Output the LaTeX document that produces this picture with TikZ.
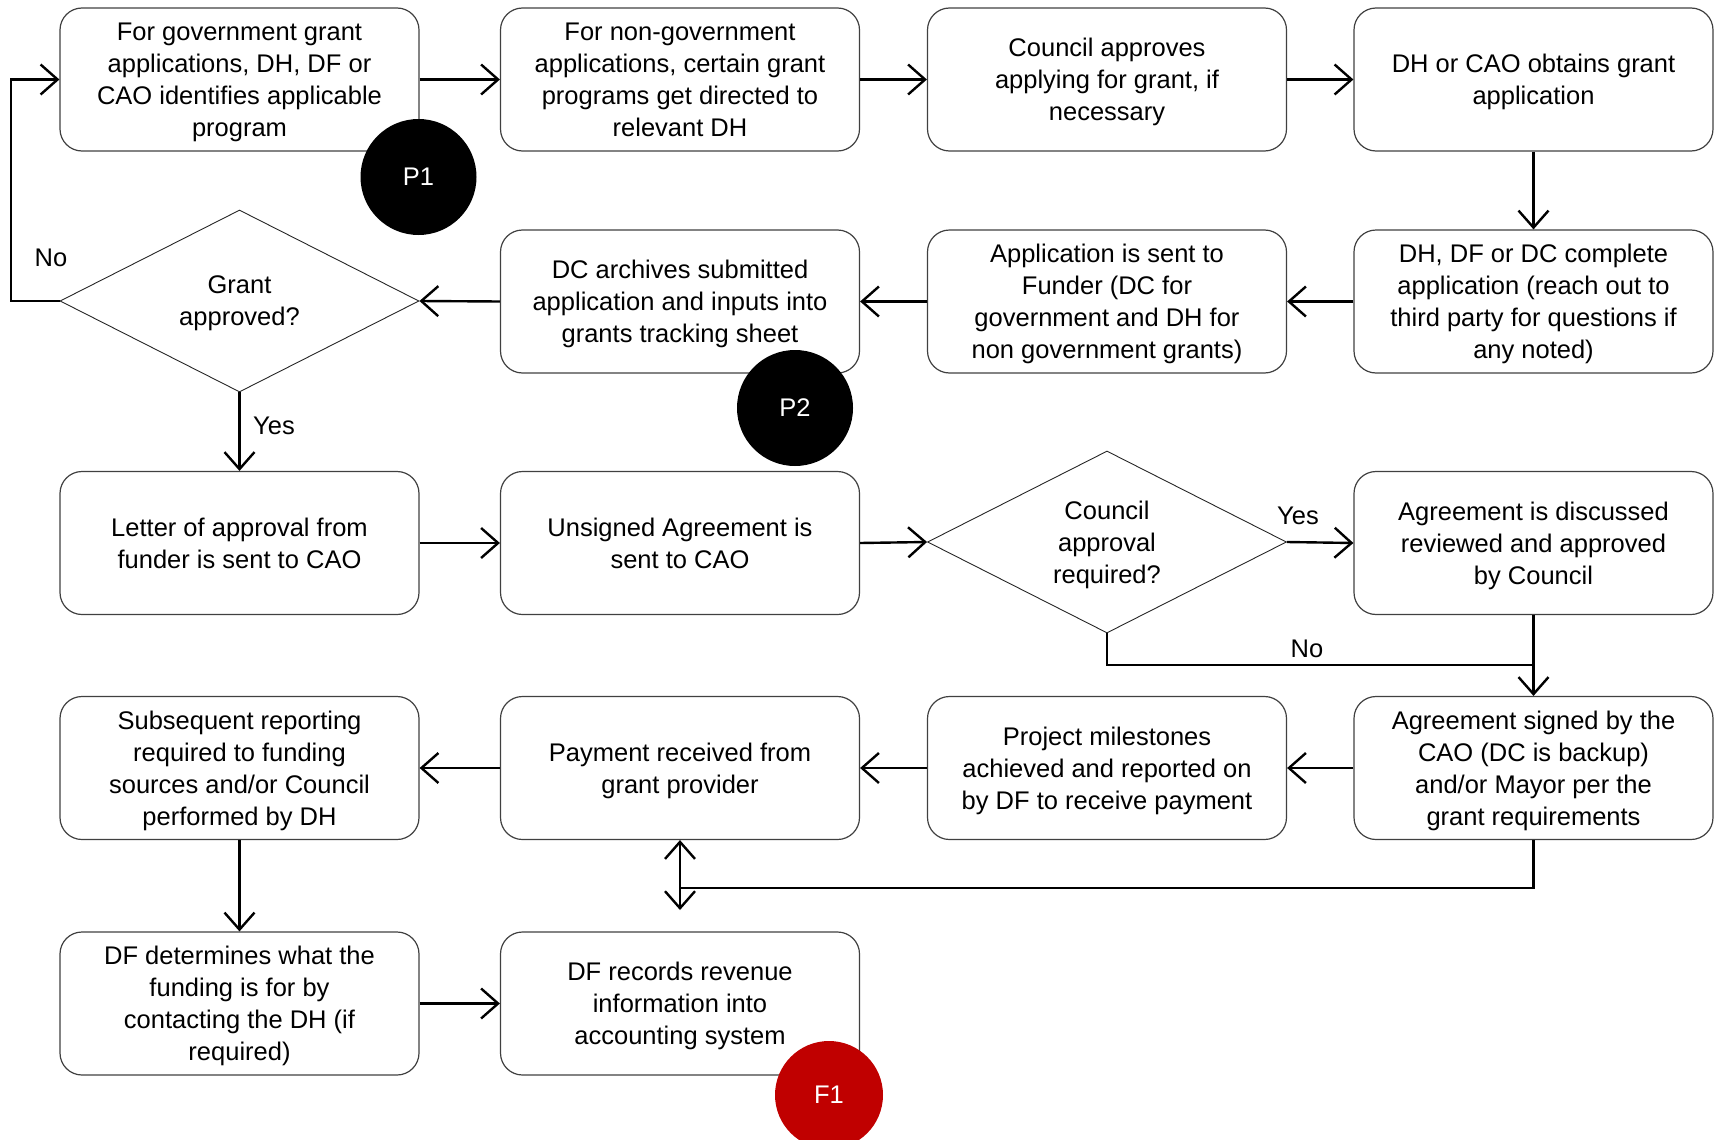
\documentclass[tikz,border=0pt]{standalone}
\usepackage{fontspec}
\setmainfont{Liberation Sans}
\usetikzlibrary{arrows.meta,shapes.geometric}
\definecolor{fred}{RGB}{192,0,0}
\begin{document}
\begin{tikzpicture}[x=1pt,y=-1pt,
  box/.style={draw=black!75,line width=1.2pt,rounded corners=22pt,minimum width=359pt,minimum height=143pt,align=center,inner sep=0pt,text depth=-8pt,font=\fontsize{25.5pt}{32pt}\selectfont},
  dia/.style={draw=black!85,line width=0.9pt,diamond,minimum width=359pt,minimum height=182pt,shape aspect=1.97,align=center,inner sep=0pt,text depth=-8pt,font=\fontsize{25.5pt}{32pt}\selectfont},
  arr/.style={line width=2.4pt,-{Straight Barb[length=17pt,width=30pt,line width=2.4pt]}},
  darr/.style={line width=2.4pt,{Straight Barb[length=17pt,width=30pt,line width=2.4pt]}-{Straight Barb[length=17pt,width=30pt,line width=2.4pt]}},
  plain/.style={line width=2.4pt},
  thinl/.style={line width=1.2pt},
  lab/.style={font=\fontsize{25.5pt}{30pt}\selectfont,inner sep=0pt},
  badge/.style={circle,fill=#1,text=white,minimum size=116pt,inner sep=0pt,font=\fontsize{25.5pt}{30pt}\selectfont}]
\useasboundingbox (0,0) rectangle (1717,1140);
% row 1
\node[box] (b11) at (239.5,79.5) {For government grant\\applications, DH, DF or\\CAO identifies applicable\\program};
\node[box] (b12) at (680,79.5) {For non-government\\applications, certain grant\\programs get directed to\\relevant DH};
\node[box] (b13) at (1107,79.5) {Council approves\\applying for grant, if\\necessary};
\node[box] (b14) at (1533.5,79.5) {DH or CAO obtains grant\\application};
% row 2
\node[dia] (d1) at (239.5,301) {Grant\\approved?};
\node[box] (b22) at (680,301.5) {DC archives submitted\\application and inputs into\\grants tracking sheet};
\node[box] (b23) at (1107,301.5) {Application is sent to\\Funder (DC for\\government and DH for\\non government grants)};
\node[box] (b24) at (1533.5,301.5) {DH, DF or DC complete\\application (reach out to\\third party for questions if\\any noted)};
% row 3
\node[box] (b31) at (239.5,543) {Letter of approval from\\funder is sent to CAO};
\node[box] (b32) at (680,543) {Unsigned Agreement is\\sent to CAO};
\node[dia] (d2) at (1107,542) {Council\\approval\\required?};
\node[box] (b34) at (1533.5,543) {Agreement is discussed\\reviewed and approved\\by Council};
% row 4
\node[box] (b41) at (239.5,768) {Subsequent reporting\\required to funding\\sources and/or Council\\performed by DH};
\node[box] (b42) at (680,768) {Payment received from\\grant provider};
\node[box] (b43) at (1107,768) {Project milestones\\achieved and reported on\\by DF to receive payment};
\node[box] (b44) at (1533.5,768) {Agreement signed by the\\CAO (DC is backup)\\and/or Mayor per the\\grant requirements};
% row 5
\node[box] (b51) at (239.5,1003.5) {DF determines what the\\funding is for by\\contacting the DH (if\\required)};
\node[box] (b52) at (680,1003.5) {DF records revenue\\information into\\accounting system};
% coordinates
\coordinate (nl) at (11,301);
\coordinate (nj) at (1533.5,665);
\coordinate (pj) at (680,888);
\coordinate (pd) at (680,910);
% connectors
\draw[arr] (b11) -- (b12);
\draw[arr] (b12) -- (b13);
\draw[arr] (b13) -- (b14);
\draw[arr] (b14) -- (b24);
\draw[arr] (b24) -- (b23);
\draw[arr] (b23) -- (b22);
\draw[arr] (b22.west) -- (d1.east);
\draw[arr] (d1.west) -- (nl) |- (b11.west);
\draw[arr] (d1.south) -- (b31.north);
\draw[arr] (b31) -- (b32);
\draw[arr] (b32.east) -- (d2.west);
\draw[arr] (d2.east) -- (b34.west);
\draw[arr] (b34) -- (b44);
\draw[thinl] (d2.south) |- (nj);
\draw[arr] (b44) -- (b43);
\draw[arr] (b43) -- (b42);
\draw[arr] (b42) -- (b41);
\draw[arr] (b41) -- (b51);
\draw[arr] (b51) -- (b52);
\draw[plain] (b44.south) |- (pj);
\draw[darr] (b42.south) -- (pd);
% labels
\node[lab] (lno1) at (51,258) {No};
\node[lab] (lyes1) at (274,426) {Yes};
\node[lab] (lyes2) at (1298,516) {Yes};
\node[lab] (lno2) at (1307,649) {No};
% markers
\node[badge=black] (p1) at (418.5,177) {P1};
\node[badge=black] (p2) at (795,408) {P2};
\node[badge=fred,minimum size=108pt] (f1) at (829,1095) {F1};
\end{tikzpicture}
\end{document}
